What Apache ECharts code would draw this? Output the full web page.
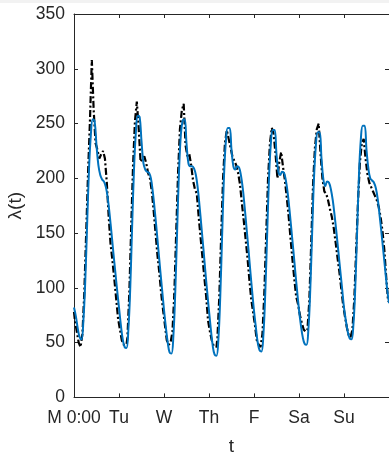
<!DOCTYPE html>
<html>
<head>
<meta charset="utf-8">
<script src="https://cdn.jsdelivr.net/npm/echarts@6/dist/echarts.min.js"></script>
<style>
html,body{margin:0;padding:0;background:#fff;}
#chart{width:389px;height:453px;}
</style>
</head>
<body>
<div id="chart"></div>
<script>
// Tick labels for the days (x axis, every 24 h)
const dayLabels = ['M 0:00', 'Tu', 'W', 'Th', 'F', 'Sa', 'Su', ''];

// Model intensity (blue), hourly values per day, h0..h23
const modelMon = [82, 74, 63, 55, 53, 70, 106, 158, 208, 240, 254, 252, 230, 212, 203, 199, 197, 192, 182, 167, 150, 132, 115, 98];
const modelTue = [82, 66, 53, 46, 45, 62, 100, 156, 208, 242, 257, 256, 234, 214, 208, 206, 205, 200, 188, 172, 154, 135, 116, 98];
const modelWed = [80, 64, 50, 41, 40, 56, 96, 152, 206, 240, 253, 254, 232, 214, 211, 211, 209, 203, 191, 174, 155, 136, 116, 97];
const modelThu = [79, 62, 47, 39, 38, 53, 92, 148, 202, 234, 246, 246, 226, 211, 208, 211, 210, 203, 191, 174, 155, 136, 116, 97];
const modelFri = [79, 64, 50, 43, 42, 57, 95, 148, 200, 232, 244, 244, 222, 206, 203, 206, 205, 198, 186, 170, 152, 134, 115, 97];
const modelSat = [80, 66, 55, 49, 48, 62, 98, 150, 200, 230, 242, 242, 218, 199, 193, 197, 196, 190, 180, 166, 150, 133, 116, 99];
const modelSun = [82, 70, 60, 54, 53, 66, 100, 152, 204, 236, 248, 248, 226, 209, 200, 198, 196, 191, 181, 166, 150, 133, 116, 99];
const modelEnd = [86];

// Observed counts (black dash-dot), hourly values per day, h0..h23
const obsMon = [78, 70, 60, 50, 46, 58, 96, 150, 205, 252, 308, 262, 232, 226, 218, 222, 225, 218, 196, 165, 140, 125, 108, 90];
const obsTue = [72, 62, 52, 48, 48, 55, 95, 155, 212, 252, 270, 246, 215, 218, 220, 214, 205, 200, 188, 170, 150, 130, 114, 95];
const obsWed = [80, 66, 52, 48, 50, 60, 94, 150, 205, 245, 262, 268, 230, 220, 222, 212, 198, 190, 186, 165, 146, 128, 110, 92];
const obsThu = [70, 60, 52, 47, 46, 55, 92, 148, 200, 232, 244, 236, 228, 220, 216, 212, 205, 195, 178, 162, 145, 128, 108, 90];
const obsFri = [78, 66, 52, 48, 46, 58, 95, 148, 200, 232, 246, 240, 222, 200, 215, 224, 210, 198, 182, 165, 145, 126, 108, 92];
const obsSat = [85, 75, 68, 62, 60, 62, 88, 140, 195, 228, 245, 250, 222, 200, 188, 186, 180, 172, 165, 155, 142, 128, 115, 100];
const obsSun = [85, 74, 64, 57, 55, 62, 90, 135, 180, 215, 232, 236, 218, 204, 196, 192, 188, 184, 180, 174, 165, 152, 135, 110];
const obsEnd = [88];

const modelVals = [].concat(modelMon, modelTue, modelWed, modelThu, modelFri, modelSat, modelSun, modelEnd);
const obsVals = [].concat(obsMon, obsTue, obsWed, obsThu, obsFri, obsSat, obsSun, obsEnd);
const modelData = modelVals.map((v, i) => [i, v]);
const obsData = obsVals.map((v, i) => [i, v]);

const txt = '#262626';
const font = "'Liberation Sans', Arial, Helvetica, sans-serif";

const chart = echarts.init(document.getElementById('chart'), null, {renderer: 'canvas'});
const baseX = {
  type: 'value', min: 0, max: 168, interval: 24,
  axisLine: {show: true, onZero: false, lineStyle: {color: txt, width: 1}},
  axisTick: {show: true, inside: true, length: 4, lineStyle: {color: txt}},
  splitLine: {show: false}
};
const baseY = {
  type: 'value', min: 0, max: 350, interval: 50,
  axisLine: {show: true, onZero: false, lineStyle: {color: txt, width: 1}},
  axisTick: {show: true, inside: true, length: 4, lineStyle: {color: txt}},
  splitLine: {show: false}
};
chart.setOption({
  animation: false,
  backgroundColor: '#fff',
  graphic: [{type: 'rect', left: 0, top: 0, shape: {width: 389, height: 3}, style: {fill: '#f2f2f2'}, silent: true}],
  grid: {left: 74, right: 0, top: 14, bottom: 55.6, containLabel: false, outerBoundsMode: 'none'},
  xAxis: [
    Object.assign({}, baseX, {
      position: 'bottom',
      axisLabel: {show: true, color: txt, fontSize: 17.5, fontFamily: font, margin: 12,
        formatter: v => dayLabels[Math.round(v / 24)] || ''},
      name: 't', nameLocation: 'middle', nameGap: 40,
      nameTextStyle: {color: txt, fontSize: 19, fontFamily: font}
    }),
    Object.assign({}, baseX, {position: 'top', axisLabel: {show: false}})
  ],
  yAxis: [
    Object.assign({}, baseY, {
      position: 'left',
      axisLabel: {show: true, color: txt, fontSize: 17.5, fontFamily: font, margin: 9},
      name: 'λ(t)', nameLocation: 'middle', nameGap: 47, nameRotate: 90,
      nameTextStyle: {color: txt, fontSize: 19, fontFamily: font}
    }),
    Object.assign({}, baseY, {position: 'right', axisLabel: {show: false}})
  ],
  series: [
    {
      type: 'line', name: 'observed', xAxisIndex: 0, yAxisIndex: 0,
      data: obsData, step: 'middle', showSymbol: false, symbol: 'none',
      lineStyle: {color: '#000', width: 2.2, type: [7, 2.5, 2, 2.5]}, z: 2
    },
    {
      type: 'line', name: 'model', xAxisIndex: 0, yAxisIndex: 0,
      data: modelData, smooth: 0.4, showSymbol: false, symbol: 'none',
      lineStyle: {color: '#0072BD', width: 2}, z: 3
    }
  ]
});
</script>
</body>
</html>
